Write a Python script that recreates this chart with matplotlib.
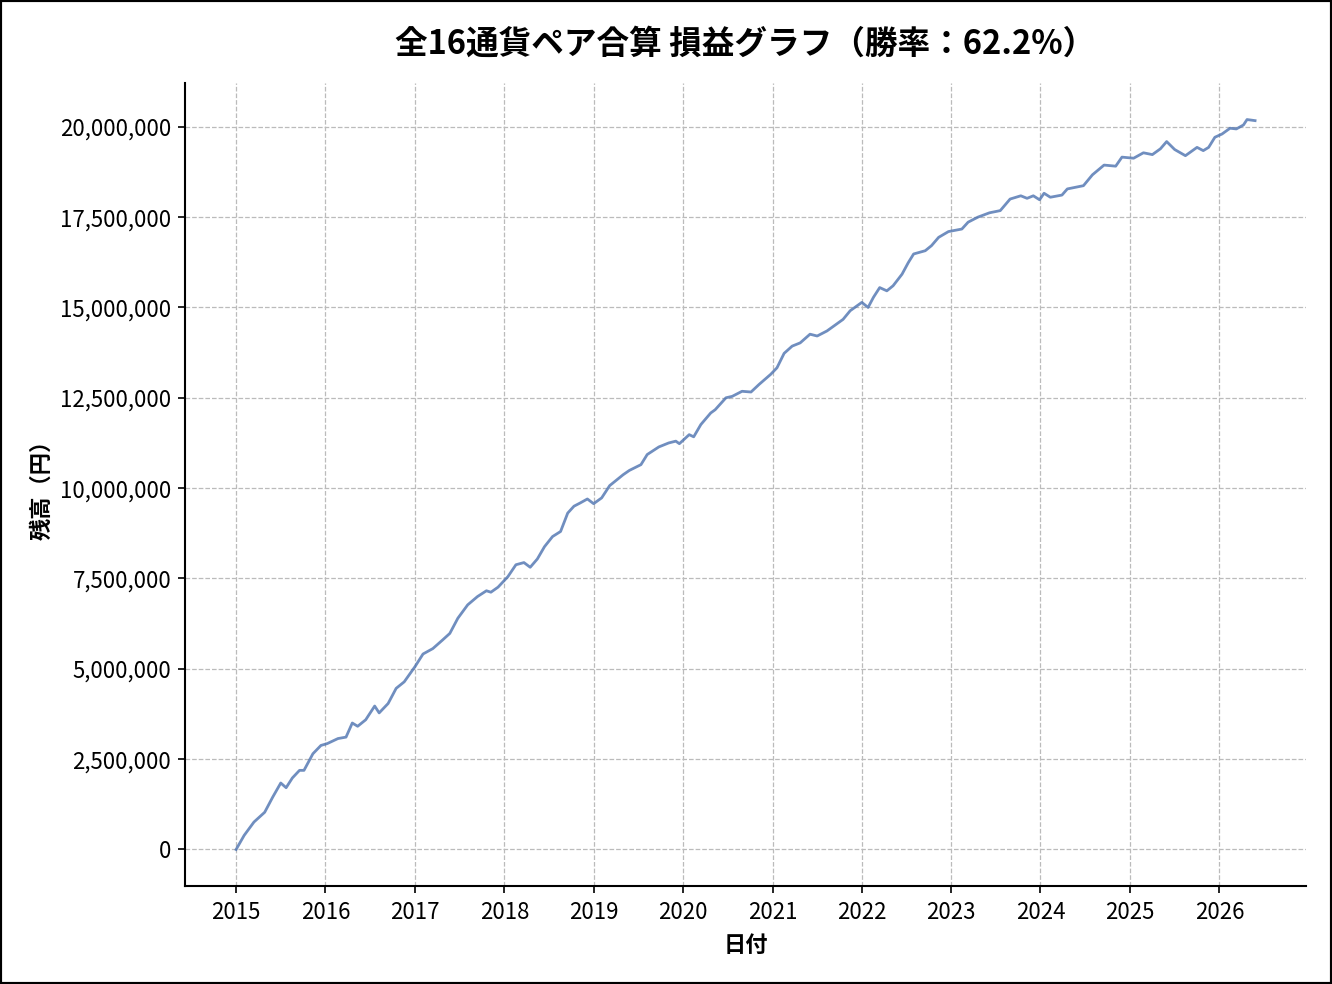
import datetime as dt
import matplotlib
matplotlib.use("Agg")
import matplotlib.pyplot as plt
import matplotlib.dates as mdates
from matplotlib.patches import Rectangle
from matplotlib.ticker import FuncFormatter

plt.rcParams['font.family'] = ['Noto Sans CJK JP', 'DejaVu Sans']

# values: decimal year, balance in millions of yen
years = [
    2015.00, 2015.09, 2015.20, 2015.32, 2015.41, 2015.50, 2015.56, 2015.63,
    2015.71, 2015.76, 2015.86, 2015.95, 2016.02, 2016.14, 2016.23, 2016.30,
    2016.36, 2016.45, 2016.55, 2016.60, 2016.70, 2016.79, 2016.88, 2017.00,
    2017.09, 2017.20, 2017.31, 2017.39, 2017.48, 2017.59, 2017.70, 2017.80,
    2017.85, 2017.93, 2018.04, 2018.13, 2018.22, 2018.29, 2018.37, 2018.45,
    2018.54, 2018.63, 2018.71, 2018.78, 2018.85, 2018.93, 2019.00, 2019.09,
    2019.18, 2019.33, 2019.40, 2019.53, 2019.60, 2019.73, 2019.84, 2019.92,
    2019.96, 2020.07, 2020.12, 2020.20, 2020.31, 2020.36, 2020.48, 2020.55,
    2020.66, 2020.76, 2020.85, 2020.98, 2021.05, 2021.13, 2021.22, 2021.31,
    2021.42, 2021.50, 2021.61, 2021.70, 2021.79, 2021.87, 2022.00, 2022.07,
    2022.13, 2022.20, 2022.28, 2022.35, 2022.45, 2022.52, 2022.58, 2022.71,
    2022.78, 2022.86, 2022.97, 2023.12, 2023.19, 2023.30, 2023.43, 2023.55,
    2023.66, 2023.78, 2023.85, 2023.92, 2023.99, 2024.04, 2024.11, 2024.24,
    2024.30, 2024.48, 2024.58, 2024.71, 2024.84, 2024.91, 2025.04, 2025.15,
    2025.25, 2025.34, 2025.41, 2025.50, 2025.62, 2025.75, 2025.82, 2025.88,
    2025.95, 2026.03, 2026.12, 2026.19, 2026.27, 2026.31, 2026.40,
]
balance_m = [
    0.00, 0.39, 0.76, 1.03, 1.45, 1.84, 1.71, 1.98,
    2.19, 2.19, 2.65, 2.88, 2.93, 3.07, 3.11, 3.50,
    3.41, 3.59, 3.97, 3.78, 4.04, 4.46, 4.64, 5.06,
    5.41, 5.56, 5.80, 5.98, 6.40, 6.77, 7.00, 7.16,
    7.12, 7.26, 7.55, 7.88, 7.94, 7.81, 8.04, 8.38,
    8.66, 8.80, 9.31, 9.50, 9.59, 9.70, 9.57, 9.73,
    10.07, 10.37, 10.49, 10.65, 10.93, 11.14, 11.25, 11.30,
    11.23, 11.48, 11.42, 11.76, 12.08, 12.17, 12.50, 12.54,
    12.68, 12.66, 12.87, 13.15, 13.33, 13.73, 13.93, 14.02,
    14.26, 14.21, 14.35, 14.51, 14.67, 14.91, 15.14, 15.00,
    15.28, 15.55, 15.46, 15.60, 15.92, 16.24, 16.48, 16.57,
    16.71, 16.94, 17.10, 17.17, 17.36, 17.50, 17.62, 17.68,
    18.00, 18.09, 18.02, 18.09, 17.98, 18.16, 18.05, 18.11,
    18.28, 18.37, 18.67, 18.94, 18.91, 19.16, 19.13, 19.28,
    19.23, 19.39, 19.59, 19.37, 19.20, 19.43, 19.34, 19.43,
    19.71, 19.80, 19.96, 19.94, 20.05, 20.20, 20.17,
]


def to_date(y):
    start = dt.datetime(int(y), 1, 1)
    end = dt.datetime(int(y) + 1, 1, 1)
    return start + (end - start) * (y - int(y))


dates = [to_date(y) for y in years]
balance = [v * 1e6 for v in balance_m]

fig = plt.figure(figsize=(13.32, 9.84), dpi=100)
ax = fig.add_axes([0.139, 0.0996, 0.8415, 0.816])

ax.plot(dates, balance, color="#4C72B0", alpha=0.8, linewidth=2.0)

ax.set_title("全16通貨ペア合算 損益グラフ（勝率：62.2%）",
             fontsize=23.5, fontweight="bold", pad=21)
ax.set_xlabel("日付", fontsize=16, fontweight="bold", labelpad=7)
ax.set_ylabel("残高（円）", fontsize=16, fontweight="bold", labelpad=5)

ax.xaxis.set_major_locator(mdates.YearLocator())
ax.xaxis.set_major_formatter(mdates.DateFormatter("%Y"))
ax.yaxis.set_major_formatter(FuncFormatter(lambda v, p: f"{int(v):,}"))
ax.tick_params(labelsize=16, length=5, width=1.2)
ax.tick_params(axis="x", pad=6)
ax.tick_params(axis="y", pad=5)

ax.grid(True, linestyle="--", color="#bbbbbb", linewidth=0.9)
ax.spines["top"].set_visible(False)
ax.spines["right"].set_visible(False)
ax.spines["left"].set_linewidth(1.5)
ax.spines["bottom"].set_linewidth(1.5)

# black frame around the whole figure
fig.add_artist(Rectangle((0, 0), 1, 1, transform=fig.transFigure,
                         fill=False, edgecolor="black", linewidth=3))

fig.savefig("out.png", dpi=100)
